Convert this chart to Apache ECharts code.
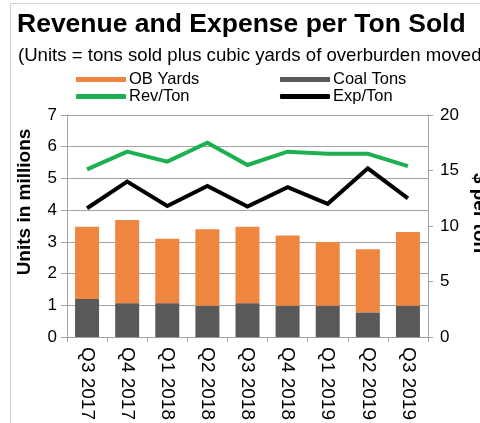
<!DOCTYPE html>
<html>
<head>
<meta charset="utf-8">
<script src="https://cdn.jsdelivr.net/npm/echarts@6/dist/echarts.min.js"></script>
<style>
  html, body { margin: 0; padding: 0; background: #fff; }
  #chart { width: 480px; height: 423px; }
</style>
</head>
<body>
<div id="chart"></div>
<script>
// Quarterly categories
const quarters = ['Q3 2017', 'Q4 2017', 'Q1 2018', 'Q2 2018', 'Q3 2018', 'Q4 2018', 'Q1 2019', 'Q2 2019', 'Q3 2019'];
// Units in millions (stacked bars)
const coalTons = [1.2, 1.07, 1.07, 0.99, 1.07, 0.99, 0.99, 0.78, 0.99];
const obYards  = [2.28, 2.62, 2.03, 2.41, 2.41, 2.21, 2.01, 1.99, 2.32];
// Dollars per ton (right axis)
const revPerTon = [15.1, 16.7, 15.8, 17.5, 15.5, 16.7, 16.5, 16.5, 15.4];
const expPerTon = [11.6, 14.0, 11.8, 13.6, 11.75, 13.5, 12.0, 15.2, 12.5];

const FONT = '"Liberation Sans", Arial, sans-serif';
const AXIS_GRAY = '#A3A3A3';

const chart = echarts.init(document.getElementById('chart'), null, { renderer: 'canvas' });

chart.setOption({
  animation: false,
  backgroundColor: '#fff',
  textStyle: { fontFamily: FONT },
  title: [{
    text: 'Revenue and Expense per Ton Sold',
    left: 12, top: 6,
    textStyle: { fontSize: 26.5, fontWeight: 'bold', color: '#000', fontFamily: FONT }
  }, {
    text: '(Units = tons sold plus cubic yards of overburden moved)',
    left: 13, top: 41,
    textStyle: { fontSize: 18.6, fontWeight: 'normal', color: '#000', fontFamily: FONT }
  }],
  legend: [{
    orient: 'vertical', left: 71, top: 66, itemGap: 0,
    itemWidth: 50, itemHeight: 5,
    data: [
      { name: 'OB Yards', icon: 'rect' },
      { name: 'Rev/Ton', icon: 'roundRect' }
    ],
    textStyle: { fontSize: 16.5, color: '#000', fontFamily: FONT, padding: [0, 0, 0, -2] }
  }, {
    orient: 'vertical', left: 275, top: 66, itemGap: 0,
    itemWidth: 50, itemHeight: 5,
    data: [
      { name: 'Coal Tons', icon: 'rect' },
      { name: 'Exp/Ton', icon: 'roundRect' }
    ],
    textStyle: { fontSize: 16.5, color: '#000', fontFamily: FONT, padding: [0, 0, 0, -2] }
  }],
  grid: { left: 67, right: 52, top: 115, bottom: 85, containLabel: false },
  xAxis: {
    type: 'category',
    data: quarters,
    boundaryGap: true,
    axisLine: { lineStyle: { color: AXIS_GRAY, width: 1 } },
    axisTick: { show: true, length: 5, lineStyle: { color: AXIS_GRAY } },
    axisLabel: { rotate: -90, margin: 10, fontSize: 19, color: '#000', fontFamily: FONT }
  },
  yAxis: [{
    type: 'value', min: 0, max: 7, interval: 1,
    axisLine: { show: true, lineStyle: { color: AXIS_GRAY } },
    axisTick: { show: true, length: 6, lineStyle: { color: AXIS_GRAY } },
    axisLabel: { fontSize: 17, color: '#000', margin: 10, fontFamily: FONT },
    splitLine: { show: true, lineStyle: { color: AXIS_GRAY, width: 1 } }
  }, {
    type: 'value', min: 0, max: 20, interval: 5,
    position: 'right',
    axisLine: { show: true, lineStyle: { color: AXIS_GRAY } },
    axisTick: { show: true, length: 5, lineStyle: { color: AXIS_GRAY } },
    axisLabel: { fontSize: 17, color: '#000', margin: 12, fontFamily: FONT },
    splitLine: { show: false }
  }],
  series: [{
    name: 'Coal Tons', type: 'bar', stack: 'units', yAxisIndex: 0,
    data: coalTons, barWidth: 24,
    itemStyle: { color: '#595959' }
  }, {
    name: 'OB Yards', type: 'bar', stack: 'units', yAxisIndex: 0,
    data: obYards, barWidth: 24,
    itemStyle: { color: '#EE8640' }
  }, {
    name: 'Rev/Ton', type: 'line', yAxisIndex: 1,
    data: revPerTon, symbol: 'none',
    lineStyle: { color: '#1DB050', width: 4, join: 'miter' },
    itemStyle: { color: '#1DB050' }
  }, {
    name: 'Exp/Ton', type: 'line', yAxisIndex: 1,
    data: expPerTon, symbol: 'none',
    lineStyle: { color: '#000', width: 4, join: 'miter' },
    itemStyle: { color: '#000' }
  }],
  graphic: [{
    type: 'rect', silent: true, z: -1,
    shape: { x: 10.5, y: 3.5, width: 600, height: 600 },
    style: { fill: 'none', stroke: '#D0D0D0', lineWidth: 1 }
  }, {
    type: 'text', silent: true,
    x: 25, y: 202, rotation: Math.PI / 2,
    style: {
      text: 'Units in millions', fill: '#000',
      font: 'bold 19px ' + FONT, align: 'center', verticalAlign: 'middle'
    }
  }, {
    type: 'text', silent: true,
    x: 479, y: 213, rotation: -Math.PI / 2,
    style: {
      text: '$ per ton', fill: '#000',
      font: 'bold 19px ' + FONT, align: 'center', verticalAlign: 'middle'
    }
  }]
});
</script>
</body>
</html>
